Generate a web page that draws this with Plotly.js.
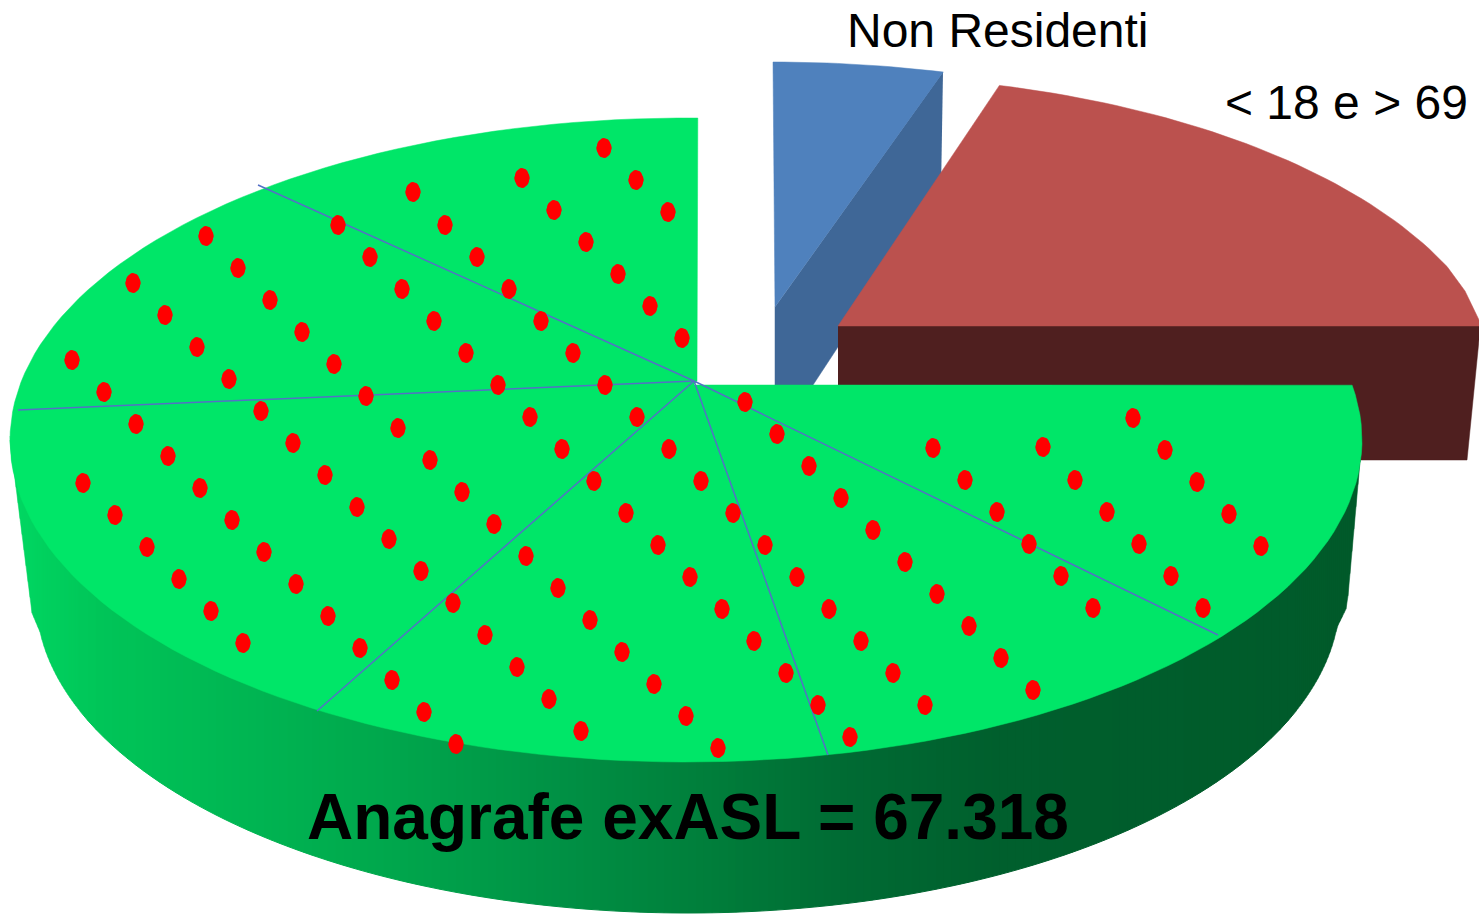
<!DOCTYPE html>
<html>
<head>
<meta charset="utf-8">
<script src="https://cdn.plot.ly/plotly-3.0.1.min.js"></script>
<style>html,body{margin:0;padding:0;background:#fff;overflow:hidden}#chart{width:1479px;height:914px}</style>
</head>
<body>
<div id="chart"></div>
<script>
// Labels
const labelTexts = ["Non Residenti", "< 18 e > 69", "Anagrafe exASL = 67.318"];
const labelX = [845, 1223, 304.5];
const labelY = [30, 102.5, 816.5];
const labelSize = [48, 48, 64];

// Red dots on the green slice
const dotsX = [
604,636,668,
522,554,586,618,650,682,
413,445,477,509,541,573,605,637,669,701,733,765,797,829,861,893,925,
338,370,402,434,466,498,530,562,594,626,658,690,722,754,786,818,850,
206,238,270,302,334,366,398,430,462,494,526,558,590,622,654,686,718,
133,165,197,229,261,293,325,357,389,421,453,485,517,549,581,
72,104,136,168,200,232,264,296,328,360,392,424,456,
83,115,147,179,211,243,
745,777,809,841,873,905,937,969,1001,1033,
933,965,997,1029,1061,1093,
1043,1075,1107,1139,1171,1203,
1133,1165,1197,1229,1261];
const dotsY = [
148,180,212,
178,210,242,274,306,338,
192,225,257,289,321,353,385,417,449,481,513,545,577,609,641,673,705,
225,257,289,321,353,385,417,449,481,513,545,577,609,641,673,705,737,
236,268,300,332,364,396,428,460,492,524,556,588,620,652,684,716,748,
283,315,347,379,411,443,475,507,539,571,603,635,667,699,731,
360,392,424,456,488,520,552,584,616,648,680,712,744,
483,515,547,579,611,643,
402,434,466,498,530,562,594,626,658,690,
448,480,512,544,576,608,
447,480,512,544,576,608,
418,450,482,514,546];

// Spoke ends on the green top face
const spokeX = [258, 18, 317, 828, 1218];
const spokeY = [185, 410, 711, 755, 635];
const apexX = 694, apexY = 381;

// Colours of the green side wall, left to right
const wallStopX = [11, 100, 250, 400, 550, 700, 850, 1000, 1363];
const wallStopC = [[0,216,98],[0,197,88],[0,181,82],[0,166,76],[0,146,69],[0,127,59],[0,106,51],[0,95,45],[0,90,42]];

const TOP = {cx:686, cy:440, rx:676, ry:322};
const BOT = {cx:688, cy:597, rx:652, ry:316};
const RED = {cx:829, cy:397, rx:676, ry:322};
const BLUE = {cx:773, cy:374, rx:676, ry:312};
// Where the straight sides of the green wall meet its curved bottom
const SIDE_L = {x:32, y:613, joinX:40};
const SIDE_R = {x:1347, y:607, joinX:1337};

function arc(e, a0, a1, n){
  const xs=[], ys=[];
  for(let i=0;i<=n;i++){
    const a=(a0+(a1-a0)*i/n)*Math.PI/180;
    xs.push(e.cx+e.rx*Math.cos(a)); ys.push(e.cy+e.ry*Math.sin(a));
  }
  return [xs,ys];
}
function poly(xs,ys,color,lw){
  return {x:xs,y:ys,mode:'lines',fill:'toself',fillcolor:color,line:{color:color,width:lw||0.5},hoverinfo:'skip',showlegend:false,type:'scatter'};
}
function wallColor(x){
  let i=0;
  while(i<wallStopX.length-2 && x>wallStopX[i+1]) i++;
  const f=Math.min(1,Math.max(0,(x-wallStopX[i])/(wallStopX[i+1]-wallStopX[i])));
  const c=wallStopC[i].map((v,k)=>Math.round(v+(wallStopC[i+1][k]-v)*f));
  return 'rgb('+c.join(',')+')';
}
function lowerY(e,x){
  const u=(x-e.cx)/e.rx;
  if(Math.abs(u)>=1) return e.cy;
  return e.cy+e.ry*Math.sqrt(1-u*u);
}
function lerp(x,x0,y0,x1,y1){return y0+(x-x0)/(x1-x0)*(y1-y0);}
function wallBottom(x){
  const tl=TOP.cx-TOP.rx, tr=TOP.cx+TOP.rx;
  if(x<SIDE_L.x) return lerp(x,tl,TOP.cy,SIDE_L.x,SIDE_L.y);
  if(x<SIDE_L.joinX) return lerp(x,SIDE_L.x,SIDE_L.y,SIDE_L.joinX,lowerY(BOT,SIDE_L.joinX));
  if(x>SIDE_R.x) return lerp(x,tr,TOP.cy,SIDE_R.x,SIDE_R.y);
  if(x>SIDE_R.joinX) return lerp(x,SIDE_R.x,SIDE_R.y,SIDE_R.joinX,lowerY(BOT,SIDE_R.joinX));
  return lowerY(BOT,x);
}

const traces=[];
// Blue slice: side then top
traces.push(poly([943,775,775,813,941],[72,307,385,385,190],'#3F6797'));
{
  const [ax,ay]=arc(BLUE,-90,-75.4,16);
  traces.push(poly([775].concat(ax),[307].concat(ay),'#4F81BD'));
}
// Red slice: side then top
traces.push(poly([838,1479,1479,1467,838],[326,326,340,460,460],'#4F1F1F'));
{
  const [ax,ay]=arc(RED,-75.4,-23.9,44);
  traces.push(poly([838].concat(ax,[1465,1479,1479,838]),[326].concat(ay,[291,320,326,326]),'#BB514E'));
}
// Green side wall, as vertical strips (finer where the outline turns fast)
const wallL=TOP.cx-TOP.rx, wallR=TOP.cx+TOP.rx;
for(let x=wallL;x<wallR;){
  const nearEdge = x<wallL+70 || x>wallR-70;
  const x1=Math.min(x+(nearEdge?2:8),wallR);
  const xm=(x+x1)/2;
  const xs=[x,x1,x1,x], ys=[lowerY(TOP,x)-4,lowerY(TOP,x1)-4,wallBottom(x1),wallBottom(x)];
  traces.push(poly(xs,ys,wallColor(xm),nearEdge?0.5:1));
  x=x1;
}
// Green top face
{
  const [ax,ay]=arc(TOP,-9.8,271,160);
  traces.push(poly([apexX].concat(ax,[697]),[385].concat(ay,[381]),'#00E668'));
}
// Spokes
spokeX.forEach((sx,i)=>{
  traces.push({x:[apexX,sx],y:[apexY,spokeY[i]],mode:'lines',line:{color:'#5470C6',width:1.5},hoverinfo:'skip',showlegend:false,type:'scatter'});
});
// Dots: markers plus a taller elliptical outline from the same centres
traces.push({x:dotsX,y:dotsY,mode:'markers',marker:{color:'#FF0000',size:15,line:{width:0}},hoverinfo:'skip',showlegend:false,type:'scatter'});
{
  const xs=[],ys=[];
  dotsX.forEach((dx,i)=>{
    for(let k=0;k<=24;k++){
      const a=k/24*2*Math.PI;
      xs.push(dx+7.5*Math.cos(a)); ys.push(dotsY[i]+10*Math.sin(a));
    }
    xs.push(null); ys.push(null);
  });
  traces.push({x:xs,y:ys,mode:'lines',fill:'toself',fillcolor:'#FF0000',line:{width:0,color:'#FF0000'},hoverinfo:'skip',showlegend:false,type:'scatter',connectgaps:false});
}

const annotations=labelTexts.map((t,i)=>({
  text:i===2?'<b>'+t+'</b>':t.replace(/</g,'&lt;').replace(/>/g,'&gt;'),
  x:labelX[i],y:labelY[i],xref:'x',yref:'y',xanchor:'left',yanchor:'middle',showarrow:false,
  font:{family:'"Liberation Sans", Arial, sans-serif',size:labelSize[i],color:'#000'}
}));

Plotly.newPlot('chart',traces,{
  width:1479,height:914,
  margin:{l:0,r:0,t:0,b:0,pad:0},
  paper_bgcolor:'#fff',plot_bgcolor:'#fff',
  showlegend:false,
  xaxis:{range:[0,1479],visible:false,fixedrange:true},
  yaxis:{range:[914,0],visible:false,fixedrange:true},
  annotations:annotations
},{displayModeBar:false,staticPlot:true});
</script>
</body>
</html>
